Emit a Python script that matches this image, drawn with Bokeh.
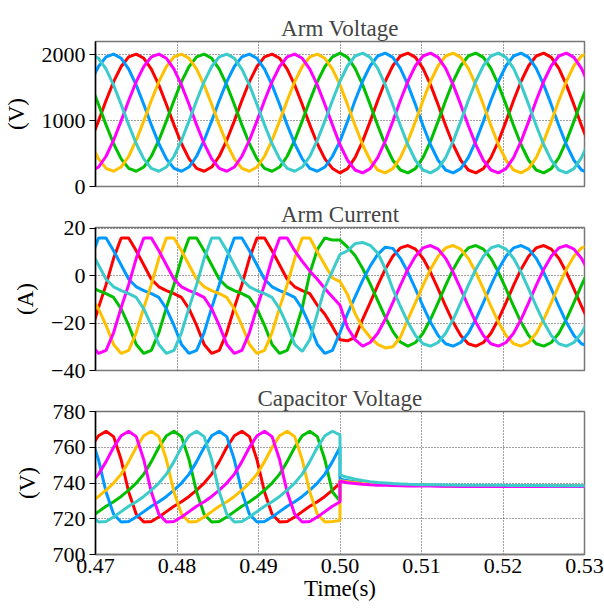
from bokeh.plotting import figure
from bokeh.layouts import column
from bokeh.models import FixedTicker, NumeralTickFormatter, Range1d
from bokeh.embed import file_html
from bokeh.resources import INLINE

# sampling instants (s): 18 samples per 60 Hz cycle, 0.5 s on the grid
time_s = [0.5 + (k - 33) / 1080 for k in range(67)]
time_cap = time_s[:34] + time_s[33:]   # capacitor traces step at t = 0.5 s

X_TICKS = [0.47, 0.48, 0.49, 0.50, 0.51, 0.52, 0.53]
V_TICKS = [0, 1000, 2000]
I_TICKS = [-40, -20, 0, 20]
C_TICKS = [700, 720, 740, 760, 780]

COLORS = {"red": "#FF0000", "green": "#00C000", "blue": "#0099FF",
          "yellow": "#FFC000", "magenta": "#FF00FF", "cyan": "#3CCBCB"}

# ---------------- Arm voltage (V) ----------------
arm_v_blue = [1592, 1821, 1966, 2009, 1945, 1781, 1538, 1244, 935, 648, 419, 274, 231, 295, 459, 702, 996, 1305,
              1592, 1821, 1966, 2009, 1945, 1781, 1538, 1244, 935, 648, 419, 274, 231, 295, 459,
              688, 988, 1304,
              1597, 1832, 1980, 2024, 1959, 1791, 1542, 1242, 926, 633, 398, 250, 206, 271, 439, 688, 988, 1304,
              1597, 1832, 1980, 2024, 1959, 1791, 1542, 1242, 926, 633, 398, 250, 206]
arm_v_red = [702, 996, 1305,
             1592, 1821, 1966, 2009, 1945, 1781, 1538, 1244, 935, 648, 419, 274, 231, 295, 459, 702, 996, 1305,
             1592, 1821, 1966, 2009, 1945, 1781, 1538, 1244, 935, 648, 419, 274,
             206, 271, 439, 688, 988, 1304,
             1597, 1832, 1980, 2024, 1959, 1791, 1542, 1242, 926, 633, 398, 250, 206, 271, 439, 688, 988, 1304,
             1597, 1832, 1980, 2024, 1959, 1791, 1542, 1242, 926, 633]
arm_v_magenta = [231, 295, 459, 702, 996, 1305,
                 1592, 1821, 1966, 2009, 1945, 1781, 1538, 1244, 935, 648, 419, 274, 231, 295, 459, 702, 996, 1305,
                 1592, 1821, 1966, 2009, 1945, 1781, 1538, 1244, 935,
                 633, 398, 250, 206, 271, 439, 688, 988, 1304,
                 1597, 1832, 1980, 2024, 1959, 1791, 1542, 1242, 926, 633, 398, 250, 206, 271, 439, 688, 988, 1304,
                 1597, 1832, 1980, 2024, 1959, 1791, 1542]
arm_v_yellow = [648, 419, 274, 231, 295, 459, 702, 996, 1305,
                1592, 1821, 1966, 2009, 1945, 1781, 1538, 1244, 935, 648, 419, 274, 231, 295, 459, 702, 996, 1305,
                1592, 1821, 1966, 2009, 1945, 1781,
                1542, 1242, 926, 633, 398, 250, 206, 271, 439, 688, 988, 1304,
                1597, 1832, 1980, 2024, 1959, 1791, 1542, 1242, 926, 633, 398, 250, 206, 271, 439, 688, 988, 1304,
                1597, 1832, 1980, 2024]
arm_v_green = [1538, 1244, 935, 648, 419, 274, 231, 295, 459, 702, 996, 1305,
               1592, 1821, 1966, 2009, 1945, 1781, 1538, 1244, 935, 648, 419, 274, 231, 295, 459, 702, 996, 1305,
               1592, 1821, 1966,
               2024, 1959, 1791, 1542, 1242, 926, 633, 398, 250, 206, 271, 439, 688, 988, 1304,
               1597, 1832, 1980, 2024, 1959, 1791, 1542, 1242, 926, 633, 398, 250, 206, 271, 439, 688, 988, 1304,
               1597]
arm_v_cyan = [2009, 1945, 1781, 1538, 1244, 935, 648, 419, 274, 231, 295, 459, 702, 996, 1305,
              1592, 1821, 1966, 2009, 1945, 1781, 1538, 1244, 935, 648, 419, 274, 231, 295, 459, 702, 996, 1305,
              1597, 1832, 1980, 2024, 1959, 1791, 1542, 1242, 926, 633, 398, 250, 206, 271, 439, 688, 988, 1304,
              1597, 1832, 1980, 2024, 1959, 1791, 1542, 1242, 926, 633, 398, 250, 206, 271, 439, 688]

# ---------------- Arm current (A) ----------------
arm_i_blue = [7.3, 15.9, 15.9, 10.5, 4.5, -1.5, -4.7, -6.3, -7.6, -9.2, -14, -21, -29, -32.8, -31.5, -24, -13.5, -3.8,
              7.3, 15.9, 15.9, 10.5, 4.5, -1.5, -4.7, -6.3, -7.6, -9.2, -14, -21, -29, -32.8, -31.5,
              -24, -16, -9, -2, 4, 9, 12, 11.5,
              7.3, 1.4, -5.6, -12.9, -19.7, -25.2, -28.7, -29.7, -28.2, -24.3, -18.4, -11.4, -4.1,
              2.7, 8.2, 11.7, 12.7, 11.2, 7.3, 1.4, -5.6, -12.9, -19.7, -25.2, -28.7, -29.7]
arm_i_red = [-24, -13.5, -3.8,
             7.3, 15.9, 15.9, 10.5, 4.5, -1.5, -4.7, -6.3, -7.6, -9.2, -14, -21, -29, -32.8, -31.5, -24, -13.5, -3.8,
             7.3, 15.9, 15.9, 10.5, 4.5, -1.5, -4.7, -6.3, -7.6,
             -12.5, -16.3, -21.5, -27, -27.5, -26,
             -18.4, -11.4, -4.1,
             2.7, 8.2, 11.7, 12.7, 11.2, 7.3, 1.4, -5.6, -12.9, -19.7, -25.2, -28.7, -29.7, -28.2, -24.3, -18.4, -11.4, -4.1,
             2.7, 8.2, 11.7, 12.7, 11.2, 7.3, 1.4, -5.6, -12.9, -19.7]
arm_i_magenta = [-29, -32.8, -31.5, -24, -13.5, -3.8,
                 7.3, 15.9, 15.9, 10.5, 4.5, -1.5, -4.7, -6.3, -7.6, -9.2, -14, -21, -29, -32.8, -31.5, -24, -13.5, -3.8,
                 7.3, 15.9, 15.9, 10.5, 6, 2,
                 -1.5, -5.5, -9, -12.5, -22, -27,
                 -29.7, -28.2, -24.3, -18.4, -11.4, -4.1,
                 2.7, 8.2, 11.7, 12.7, 11.2, 7.3, 1.4, -5.6, -12.9, -19.7, -25.2, -28.7, -29.7, -28.2, -24.3, -18.4, -11.4, -4.1,
                 2.7, 8.2, 11.7, 12.7, 11.2, 7.3, 1.4]
arm_i_yellow = [-9.2, -14, -21, -29, -32.8, -31.5, -24, -13.5, -3.8,
                7.3, 15.9, 15.9, 10.5, 4.5, -1.5, -4.7, -6.3, -7.6, -9.2, -14, -21, -29, -32.8, -31.5, -24, -13.5, -3.8,
                7.3, 15.9, 15.9,
                10, 4.5, -1, -2.5, -8, -16, -22, -26, -29, -30.5, -30, -26,
                -18.4, -11.4, -4.1,
                2.7, 8.2, 11.7, 12.7, 11.2, 7.3, 1.4, -5.6, -12.9, -19.7, -25.2, -28.7, -29.7, -28.2, -24.3, -18.4, -11.4, -4.1,
                2.7, 8.2, 11.7, 12.7]
arm_i_green = [-4.7, -6.3, -7.6, -9.2, -14, -21, -29, -32.8, -31.5, -24, -13.5, -3.8,
               7.3, 15.9, 15.9, 10.5, 4.5, -1.5, -4.7, -6.3, -7.6, -9.2, -14, -21, -29, -32.8, -31.5, -24, -13.5,
               1, 11, 15.9, 15, 15, 12, 8.5, 3, -3.5, -10.5, -17.5, -23.5, -28,
               -29.7, -28.2, -24.3, -18.4, -11.4, -4.1,
               2.7, 8.2, 11.7, 12.7, 11.2, 7.3, 1.4, -5.6, -12.9, -19.7, -25.2, -28.7, -29.7, -28.2, -24.3, -18.4, -11.4, -4.1,
               2.7]
arm_i_cyan = [10.5, 4.5, -1.5, -4.7, -6.3, -7.6, -9.2, -14, -21, -29, -32.8, -31.5, -24, -13.5, -3.8,
              7.3, 15.9, 15.9, 10.5, 4.5, -1.5, -4.7, -6.3, -7.6, -9.2, -14, -21, -29,
              -32, -27, -16, -5, 2, 9, 10.5, 13.5, 14, 12.8, 9.5, 3,
              -5.6, -12.9, -19.7, -25.2, -28.7, -29.7, -28.2, -24.3, -18.4, -11.4, -4.1,
              2.7, 8.2, 11.7, 12.7, 11.2, 7.3, 1.4, -5.6, -12.9, -19.7, -25.2, -28.7, -29.7, -28.2, -24.3, -18.4]

# ---------------- Capacitor voltage (V): before / after 0.5 s ----------------
cap_blue_pre = [766, 753, 735, 722.5, 718.2, 718.5, 721, 724, 727, 729.5, 732.5, 736, 740, 745, 752, 760, 766.5, 769,
                766, 753, 735, 722.5, 718.2, 718.5, 721, 724, 727, 729.5, 732.5, 736, 740, 745, 752, 760]
cap_red_pre = [760, 766.5, 769,
               766, 753, 735, 722.5, 718.2, 718.5, 721, 724, 727, 729.5, 732.5, 736, 740, 745, 752, 760, 766.5, 769,
               766, 753, 735, 722.5, 718.2, 718.5, 721, 724, 727, 729.5, 732.5, 736, 740]
cap_magenta_pre = [740, 745, 752, 760, 766.5, 769,
                   766, 753, 735, 722.5, 718.2, 718.5, 721, 724, 727, 729.5, 732.5, 736, 740, 745, 752, 760, 766.5, 769,
                   766, 753, 735, 722.5, 718.2, 718.5, 721, 724, 727, 729.5]
cap_yellow_pre = [729.5, 732.5, 736, 740, 745, 752, 760, 766.5, 769,
                  766, 753, 735, 722.5, 718.2, 718.5, 721, 724, 727, 729.5, 732.5, 736, 740, 745, 752, 760, 766.5, 769,
                  766, 753, 735, 722.5, 718.2, 718.5, 719]
cap_green_pre = [721, 724, 727, 729.5, 732.5, 736, 740, 745, 752, 760, 766.5, 769,
                 766, 753, 735, 722.5, 718.2, 718.5, 721, 724, 727, 729.5, 732.5, 736, 740, 745, 752, 760, 766.5, 769,
                 766, 753, 735, 730]
cap_cyan_pre = [722.5, 718.2, 718.5, 721, 724, 727, 729.5, 732.5, 736, 740, 745, 752, 760, 766.5, 769,
                766, 753, 735, 722.5, 718.2, 718.5, 721, 724, 727, 729.5, 732.5, 736, 740, 745, 752, 760, 766.5, 769,
                767]

cap_blue_post = [742.2, 741.3, 740.6, 740.1, 739.7, 739.4, 739.2, 739.0, 738.9, 738.8, 738.7, 738.7, 738.6, 738.6, 738.5, 738.5, 738.5,
                 738.4, 738.4, 738.4, 738.4, 738.3, 738.3, 738.3, 738.3, 738.3, 738.2, 738.2, 738.2, 738.2, 738.2, 738.2, 738.2, 738.2]
cap_red_post = [741.6, 741.0, 740.5, 740.0, 739.7, 739.4, 739.2, 739.0, 738.9, 738.8, 738.7, 738.7, 738.6, 738.6, 738.5, 738.5, 738.5,
                738.4, 738.4, 738.4, 738.4, 738.3, 738.3, 738.3, 738.3, 738.3, 738.2, 738.2, 738.2, 738.2, 738.2, 738.2, 738.2, 738.2]
cap_green_post = [741.9, 741.2, 740.6, 740.1, 739.7, 739.4, 739.2, 739.0, 738.9, 738.8, 738.7, 738.7, 738.6, 738.6, 738.5, 738.5, 738.5,
                  738.4, 738.4, 738.4, 738.4, 738.3, 738.3, 738.3, 738.3, 738.3, 738.2, 738.2, 738.2, 738.2, 738.2, 738.2, 738.2, 738.2]
cap_yellow_post = [741.3, 740.8, 740.3, 739.9, 739.6, 739.4, 739.2, 739.0, 738.9, 738.8, 738.7, 738.7, 738.6, 738.6, 738.5, 738.5, 738.5,
                   738.4, 738.4, 738.4, 738.4, 738.3, 738.3, 738.3, 738.3, 738.3, 738.2, 738.2, 738.2, 738.2, 738.2, 738.2, 738.2, 738.2]
cap_magenta_post = [741.0, 740.2, 739.7, 739.3, 739.0, 738.8, 738.7, 738.6, 738.5, 738.4, 738.4, 738.3, 738.3, 738.2, 738.2, 738.2, 738.1,
                    738.1, 738.1, 738.1, 738.1, 738.0, 738.0, 738.0, 738.0, 738.0, 738.0, 738.0, 738.0, 738.0, 738.0, 738.0, 738.0, 738.0]
cap_cyan_post = [744.5, 743.2, 742.2, 741.4, 740.8, 740.3, 740.0, 739.7, 739.5, 739.3, 739.2, 739.1, 739.0, 739.0, 738.9, 738.9, 738.8,
                 738.8, 738.8, 738.7, 738.7, 738.7, 738.7, 738.6, 738.6, 738.6, 738.6, 738.6, 738.5, 738.5, 738.5, 738.5, 738.5, 738.5]

ORDER = ["red", "green", "blue", "yellow", "magenta", "cyan"]
arm_v = {"red": arm_v_red, "green": arm_v_green, "blue": arm_v_blue,
         "yellow": arm_v_yellow, "magenta": arm_v_magenta, "cyan": arm_v_cyan}
arm_i = {"red": arm_i_red, "green": arm_i_green, "blue": arm_i_blue,
         "yellow": arm_i_yellow, "magenta": arm_i_magenta, "cyan": arm_i_cyan}
cap_v = {"red": cap_red_pre + cap_red_post, "green": cap_green_pre + cap_green_post,
         "blue": cap_blue_pre + cap_blue_post, "yellow": cap_yellow_pre + cap_yellow_post,
         "magenta": cap_magenta_pre + cap_magenta_post, "cyan": cap_cyan_pre + cap_cyan_post}

for name, d, tt in (("V", arm_v, time_s), ("I", arm_i, time_s), ("C", cap_v, time_cap)):
    for c, arr in d.items():
        if len(arr) != len(tt):
            raise SystemExit(f"length mismatch {name} {c}: {len(arr)} vs {len(tt)}")

FONT = "Liberation Serif"
GRID = "#404040"
FRAME = "#777777"
W = 604
LEFT = 94
RIGHT = 20


def make_fig(title, ylabel, y_start, y_end, yticks, top, frame_h, bottom, show_x):
    p = figure(width=W, height=top + frame_h + bottom,
               x_range=Range1d(0.47, 0.53), y_range=Range1d(y_start, y_end),
               output_backend="svg", toolbar_location=None,
               min_border_left=LEFT, min_border_right=RIGHT,
               min_border_top=top, min_border_bottom=bottom)
    p.title.text = title
    p.title.text_font = FONT
    p.title.text_font_size = "23px"
    p.title.text_font_style = "normal"
    p.title.align = "center"
    p.title.standoff = 1
    p.outline_line_color = FRAME
    p.outline_line_width = 1.5
    p.background_fill_color = "white"
    p.border_fill_color = "white"

    p.xgrid.ticker = FixedTicker(ticks=X_TICKS)
    p.ygrid.ticker = FixedTicker(ticks=yticks)
    for g in (p.xgrid, p.ygrid):
        g.grid_line_color = GRID
        g.grid_line_dash = "1 2"
        g.grid_line_width = 1

    ya = p.yaxis[0]
    ya.ticker = FixedTicker(ticks=yticks)
    ya.axis_line_color = "black"
    ya.axis_line_width = 1.5
    ya.major_tick_line_color = "black"
    ya.major_tick_out = 6
    ya.major_tick_in = 0
    ya.minor_tick_line_color = None
    ya.major_label_text_font = FONT
    ya.major_label_text_font_size = "22px"
    ya.major_label_text_color = "black"
    ya.major_label_standoff = 4
    ya.axis_label = ylabel
    ya.axis_label_text_font = FONT
    ya.axis_label_text_font_size = "23px"
    ya.axis_label_text_font_style = "normal"
    ya.axis_label_text_color = "black"
    ya.axis_label_standoff = 10

    xa = p.xaxis[0]
    if show_x:
        xa.ticker = FixedTicker(ticks=X_TICKS)
        xa.formatter = NumeralTickFormatter(format="0.00")
        xa.axis_line_color = FRAME
        xa.axis_line_width = 1.5
        xa.major_tick_out = 0
        xa.major_tick_in = 0
        xa.minor_tick_line_color = None
        xa.major_label_text_font = FONT
        xa.major_label_text_font_size = "22px"
        xa.major_label_text_color = "black"
        xa.major_label_standoff = 4
        xa.axis_label = "Time(s)"
        xa.axis_label_text_font = FONT
        xa.axis_label_text_font_size = "23px"
        xa.axis_label_text_font_style = "normal"
        xa.axis_label_text_color = "black"
        xa.axis_label_standoff = 0
    else:
        xa.visible = False
    return p


p1 = make_fig("Arm Voltage", "(V)", 0, 2200, V_TICKS, 41, 145, 13, False)
for c in ORDER:
    p1.line(time_s, arm_v[c], line_color=COLORS[c], line_width=3)

p2 = make_fig("Arm Current", "(A)", -40, 20.3, I_TICKS, 27, 144, 13, False)
for c in ORDER:
    p2.line(time_s, arm_i[c], line_color=COLORS[c], line_width=3)

p3 = make_fig("Capacitor Voltage", "(V)", 700, 780.05, C_TICKS, 27, 144, 56, True)
for c in ORDER:
    p3.line(time_cap, cap_v[c], line_color=COLORS[c], line_width=3)

layout = column(p1, p2, p3, spacing=0)
open("out.html", "w").write(file_html(layout, INLINE))
